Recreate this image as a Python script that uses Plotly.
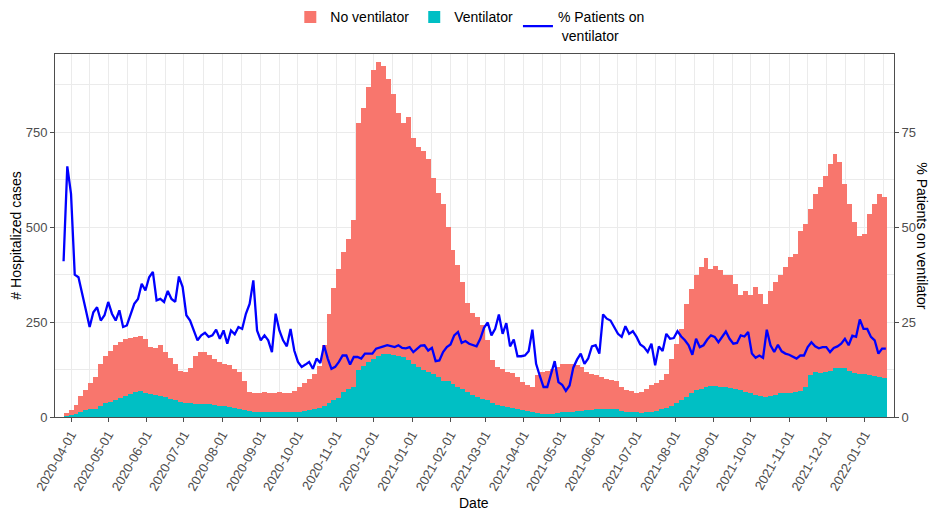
import pandas as pd
import plotly.graph_objects as go

# ---------------- data ----------------
# bars: 4-day blocks starting 2020-03-26
bar_start = "2020-03-26"
bar_step_days = 4
ventilator = [
    3, 5, 9, 14, 18, 20, 22, 30, 36, 40, 45, 50, 55, 60, 65, 68, 64, 60, 58, 56,
    52, 48, 44, 40, 38, 36, 35, 33, 34, 34, 32, 30, 28, 26, 24, 22, 19, 15, 14, 13,
    13, 13, 12, 12, 12, 12, 13, 14, 16, 18, 21, 25, 30, 38, 45, 50, 65, 75, 80, 125,
    135, 145, 153, 160, 165, 167, 162, 160, 158, 150, 140, 132, 125, 118, 112, 105, 95, 95, 88, 80,
    75, 65, 58, 52, 48, 44, 38, 32, 30, 26, 24, 22, 19, 16, 14, 11, 9, 8, 9, 11,
    12, 13, 14, 15, 16, 18, 19, 20, 21, 22, 22, 20, 16, 14, 13, 12, 11, 12, 14, 17,
    20, 25, 30, 37, 44, 52, 62, 70, 75, 78, 81, 82, 80, 79, 77, 73, 70, 67, 63, 58,
    55, 54, 56, 58, 62, 64, 63, 66, 68, 78, 110, 118, 116, 118, 122, 128, 130, 128, 122, 116,
    114, 112, 110, 108, 105, 102,
]
no_ventilator = [
    7, 13, 23, 41, 54, 70, 83, 110, 124, 135, 145, 147, 150, 148, 147, 146, 141, 125, 124, 134,
    118, 107, 96, 82, 80, 92, 125, 138, 136, 128, 121, 115, 112, 110, 103, 96, 76, 50, 50, 49,
    52, 50, 50, 54, 52, 50, 55, 66, 74, 82, 91, 110, 160, 232, 295, 340, 370, 395, 440, 650,
    680, 725, 762, 775, 760, 723, 688, 640, 617, 640, 595, 578, 575, 562, 518, 485, 465, 405, 352, 320,
    280, 235, 217, 211, 193, 158, 111, 100, 97, 92, 92, 83, 73, 67, 65, 99, 109, 113, 118, 121,
    128, 127, 126, 121, 116, 100, 95, 90, 84, 79, 76, 75, 63, 58, 55, 51, 55, 63, 69, 72,
    78, 89, 124, 156, 188, 246, 276, 303, 320, 342, 309, 317, 308, 294, 296, 278, 250, 266, 257, 284,
    270, 244, 277, 297, 311, 331, 358, 364, 423, 431, 438, 470, 489, 518, 545, 565, 541, 486, 439, 397,
    364, 370, 425, 453, 483, 478,
]

# line: 3-day points starting 2020-03-26
line_start = "2020-03-26"
line_step_days = 3
pct_ventilator = [
    41.0, 66.0, 58.8, 37.5, 36.8, 32.0, 28.1, 23.7, 27.6, 28.9, 25.4, 26.8, 30.3, 27.2, 25.4, 28.1,
    23.7, 24.1, 27.2, 29.8, 31.1, 35.1, 33.3, 36.8, 38.2, 30.7, 31.1, 30.3, 33.2, 31.1, 30.3, 37.0,
    34.2, 26.8, 25.4, 23.0, 20.2, 21.5, 22.2, 21.1, 21.5, 23.0, 20.6, 22.8, 19.3, 22.8, 21.8, 23.7,
    23.2, 27.2, 29.8, 36.0, 22.8, 20.2, 21.5, 20.2, 17.1, 27.2, 22.8, 20.2, 18.6, 23.2, 17.5, 14.5,
    13.2, 13.8, 14.5, 12.7, 15.4, 14.2, 18.9, 15.4, 12.7, 13.2, 14.5, 16.2, 16.2, 13.8, 15.8, 15.8,
    15.4, 16.7, 16.7, 16.7, 18.0, 18.2, 18.6, 18.9, 18.6, 18.4, 18.9, 18.2, 18.1, 18.4, 17.1, 18.0,
    18.8, 18.9, 17.5, 18.2, 14.7, 14.9, 17.1, 18.4, 19.1, 21.5, 22.4, 19.5, 20.0, 19.3, 18.9, 18.6,
    20.6, 23.5, 24.9, 21.5, 23.2, 27.0, 21.9, 24.7, 18.6, 20.4, 16.0, 16.0, 16.2, 17.3, 23.0, 14.0,
    10.8, 7.9, 7.9, 11.0, 14.7, 9.2, 8.5, 6.9, 8.3, 13.0, 15.1, 16.7, 14.0, 15.4, 18.6, 18.9,
    16.7, 27.0, 25.9, 25.4, 23.7, 21.9, 21.1, 23.9, 21.9, 22.6, 21.1, 19.1, 18.4, 17.1, 19.3, 13.6,
    18.6, 17.4, 21.9, 20.6, 20.8, 22.6, 21.2, 20.2, 18.9, 16.4, 20.6, 18.4, 18.9, 20.4, 21.5, 21.1,
    19.7, 21.2, 22.5, 20.6, 19.3, 19.5, 21.5, 21.2, 22.4, 16.7, 15.6, 16.2, 15.6, 23.0, 18.9, 17.1,
    19.0, 17.3, 16.7, 16.4, 16.0, 15.4, 16.2, 16.2, 18.4, 19.7, 18.6, 18.1, 18.4, 18.4, 17.1, 18.2,
    18.6, 19.3, 20.6, 18.9, 21.4, 21.1, 25.7, 23.2, 23.2, 21.1, 20.2, 16.7, 18.0, 18.0,
]

left_ticks = [0, 250, 500, 750]
right_ticks = [0, 25, 50, 75]

# ---------------- derived axis helpers ----------------
bar_dates = [d.strftime("%Y-%m-%d") for d in
             pd.date_range(bar_start, periods=len(ventilator), freq=f"{bar_step_days}D")]
line_dates = [d.strftime("%Y-%m-%d") for d in
              pd.date_range(line_start, periods=len(pct_ventilator), freq=f"{line_step_days}D")]

majors = pd.date_range("2020-04-01", "2022-02-01", freq="MS")
minors = majors[:-1] + (majors[1:] - majors[:-1]) / 2
major_vals = [d.strftime("%Y-%m-%d") for d in majors[:-1]]
minor_vals = [d.strftime("%Y-%m-%d %H:%M") for d in minors]

FONT = "Liberation Sans, Arial, sans-serif"
SALMON = "#F8766D"
CYAN = "#00BFC4"
GRID = "#EBEBEB"
BORDER = "#4D4D4D"
TICKTXT = "#4D4D4D"
bar_w = bar_step_days * 86400000

fig = go.Figure()
fig.add_trace(go.Bar(
    x=bar_dates, y=ventilator, name="Ventilator", marker=dict(color=CYAN, line=dict(width=0)),
    width=bar_w, offset=0, legendrank=2,
))
fig.add_trace(go.Bar(
    x=bar_dates, y=no_ventilator, name="No ventilator", marker=dict(color=SALMON, line=dict(width=0)),
    width=bar_w, offset=0, legendrank=1,
))
fig.add_trace(go.Scatter(
    x=line_dates, y=pct_ventilator, name="% Patients on<br> ventilator", mode="lines",
    line=dict(color="#0000FF", width=2.3), yaxis="y2", legendrank=3,
))

fig.update_layout(
    width=940, height=513,
    margin=dict(l=55, r=46, t=54, b=96, autoexpand=False),
    paper_bgcolor="white", plot_bgcolor="white",
    barmode="stack", bargap=0,
    font=dict(family=FONT, size=12, color="black"),
    showlegend=True,
    legend=dict(orientation="h", x=0.495, xanchor="center", y=1.145, yanchor="top",
                font=dict(size=14, color="black"), traceorder="normal",
                itemwidth=30, tracegroupgap=0),
    xaxis=dict(
        type="date", automargin=False,
        range=["2020-03-19 02:00", "2022-01-24 14:00"],
        tickmode="array", tickvals=major_vals, ticktext=major_vals,
        tickangle=-60, tickfont=dict(size=13, color=TICKTXT),
        ticks="outside", ticklen=4, tickcolor=BORDER, tickwidth=1,
        showgrid=True, gridcolor=GRID, gridwidth=1,
        minor=dict(tickmode="array", tickvals=minor_vals, showgrid=True,
                   gridcolor=GRID, gridwidth=0.6, ticks=""),
        showline=True, linecolor=BORDER, linewidth=1, mirror=True,
        zeroline=False,
    ),
    yaxis=dict(
        range=[0, 956], automargin=False,
        tickmode="array", tickvals=left_ticks,
        tickfont=dict(size=13, color=TICKTXT),
        ticks="outside", ticklen=4, tickcolor=BORDER, tickwidth=1,
        showgrid=True, gridcolor=GRID, gridwidth=1,
        minor=dict(tickmode="array", tickvals=[125, 375, 625, 875], showgrid=True,
                   gridcolor=GRID, gridwidth=0.6, ticks=""),
        showline=True, linecolor=BORDER, linewidth=1, mirror=True,
        zeroline=False,
    ),
    yaxis2=dict(
        overlaying="y", side="right", automargin=False,
        range=[0, 95.6],
        tickmode="array", tickvals=right_ticks,
        tickfont=dict(size=13, color=TICKTXT),
        ticks="outside", ticklen=4, tickcolor=BORDER, tickwidth=1,
        showgrid=False, zeroline=False, showline=False,
    ),
    annotations=[
        dict(text="# Hospitalized cases", xref="paper", yref="paper", x=-0.0475, y=0.5,
             xanchor="center", yanchor="middle", textangle=-90, showarrow=False,
             font=dict(size=14, color="black")),
        dict(text="% Patients on ventilator", xref="paper", yref="paper", x=1.0336, y=0.5,
             xanchor="center", yanchor="middle", textangle=90, showarrow=False,
             font=dict(size=14, color="black")),
        dict(text="Date", xref="paper", yref="paper", x=0.4995, y=-0.2369,
             xanchor="center", yanchor="middle", showarrow=False,
             font=dict(size=14, color="black")),
    ],
)

fig.write_html(
    "out.html",
    config={"displayModeBar": False},
    post_script="document.body.style.margin='0px';document.body.style.padding='0px';",
)
